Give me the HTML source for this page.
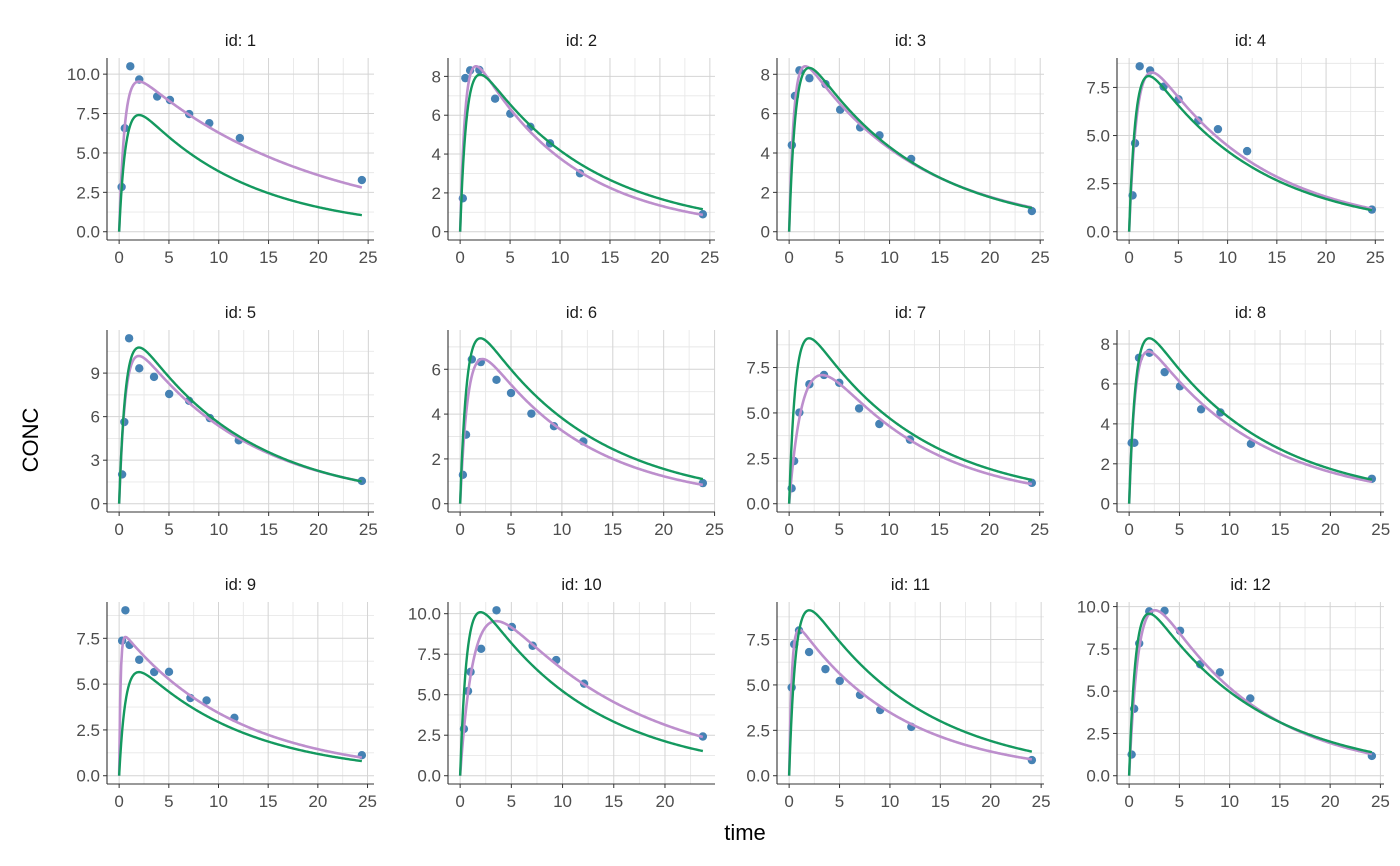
<!DOCTYPE html>
<html><head><meta charset="utf-8">
<style>
html,body{margin:0;padding:0;background:#fff;}
svg{display:block;font-family:"Liberation Sans",Arial,sans-serif;}
</style></head>
<body>
<svg id="chart" width="1400" height="866" viewBox="0 0 1400 866" xmlns="http://www.w3.org/2000/svg">
<text x="745" y="840" font-size="22" text-anchor="middle" fill="#000">time</text>
<text transform="translate(38,440) rotate(-90)" font-size="22" text-anchor="middle" fill="#000">CONC</text>
</svg>
<script>
// observed data (time, concentration) per id
const ids = [1,2,3,4,5,6,7,8,9,10,11,12];
const obsTime = [
 [0.25,0.57,1.12,2.02,3.82,5.10,7.03,9.05,12.12,24.37],
 [0.27,0.52,1.00,1.92,3.50,5.02,7.03,9.00,12.00,24.30],
 [0.27,0.58,1.02,2.02,3.62,5.08,7.07,9.00,12.15,24.17],
 [0.35,0.60,1.07,2.13,3.50,5.02,7.02,9.02,11.98,24.65],
 [0.30,0.52,1.00,2.02,3.50,5.02,7.02,9.10,12.00,24.35],
 [0.27,0.58,1.15,2.03,3.57,5.00,7.00,9.22,12.10,23.85],
 [0.25,0.50,1.02,2.02,3.48,5.00,6.98,9.00,12.05,24.22],
 [0.25,0.52,0.98,2.02,3.53,5.05,7.15,9.07,12.10,24.12],
 [0.30,0.63,1.05,2.02,3.53,5.02,7.17,8.80,11.60,24.43],
 [0.37,0.77,1.02,2.05,3.55,5.05,7.08,9.38,12.10,23.70],
 [0.25,0.50,0.98,1.98,3.60,5.02,7.03,9.03,12.12,24.08],
 [0.25,0.50,1.00,2.00,3.52,5.07,7.07,9.03,12.05,24.15]];
const obsConc = [
 [2.84,6.57,10.50,9.66,8.58,8.36,7.47,6.89,5.94,3.28],
 [1.72,7.91,8.31,8.33,6.85,6.08,5.40,4.55,3.01,0.90],
 [4.40,6.90,8.20,7.80,7.50,6.20,5.30,4.90,3.70,1.05],
 [1.89,4.60,8.60,8.38,7.54,6.88,5.78,5.33,4.19,1.15],
 [2.02,5.63,11.40,9.33,8.74,7.56,7.09,5.90,4.37,1.57],
 [1.29,3.08,6.44,6.32,5.53,4.94,4.02,3.46,2.78,0.92],
 [0.85,2.35,5.02,6.58,7.09,6.66,5.25,4.39,3.53,1.15],
 [3.05,3.05,7.31,7.56,6.59,5.88,4.73,4.57,3.00,1.25],
 [7.37,9.03,7.14,6.33,5.66,5.67,4.24,4.11,3.16,1.12],
 [2.89,5.22,6.41,7.83,10.21,9.18,8.02,7.14,5.68,2.42],
 [4.86,7.24,8.00,6.81,5.87,5.22,4.45,3.62,2.69,0.86],
 [1.25,3.96,7.82,9.72,9.75,8.57,6.59,6.11,4.57,1.17]];
// individual fit (purple) model parameters: absorption rate, elimination rate, amplitude
const ipredKa = [1.8,1.95,2.05,1.22,1.55,1.25,0.7,1.6,7.0,0.72,3.7,1.0];
const ipredKe = [0.056,0.103,0.087,0.09,0.087,0.098,0.097,0.09,0.086,0.074,0.096,0.099];
const ipredA  = [11.0,10.6,10.1,11.0,12.8,8.7,11.3,9.6,8.1,13.8,9.1,14.0];
// population prediction (green) parameters
const predKa = [1.5,1.5,1.5,1.5,1.5,1.5,1.5,1.5,1.5,1.5,1.5,1.5];
const predKe = [0.09,0.09,0.09,0.09,0.09,0.09,0.09,0.09,0.09,0.09,0.09,0.09];
const predA  = [9.43,10.3,10.6,10.3,13.7,9.4,11.6,10.55,7.2,12.85,11.6,12.2];
// y tick labels per panel
const yTicks = [
 [0,2.5,5,7.5,10],[0,2,4,6,8],[0,2,4,6,8],[0,2.5,5,7.5],
 [0,3,6,9],[0,2,4,6],[0,2.5,5,7.5],[0,2,4,6,8],
 [0,2.5,5,7.5],[0,2.5,5,7.5,10],[0,2.5,5,7.5],[0,2.5,5,7.5,10]];
const xTicks = [0,5,10,15,20,25];

const NS='http://www.w3.org/2000/svg';
const svg=document.getElementById('chart');
function mk(tag,attrs,parent){const e=document.createElementNS(NS,tag);for(const k in attrs)e.setAttribute(k,attrs[k]);(parent||svg).appendChild(e);return e;}
function model(A,ka,ke,t){return A*(Math.exp(-ke*t)-Math.exp(-ka*t));}

const colLeft=[107,448,777,1117];
const rowBottom=[240,512,784];
const PW=267, PH=182;

ids.forEach((id,i)=>{
  const r=Math.floor(i/4), c=i%4;
  const L=colLeft[c], B=rowBottom[r], T=B-PH, R=L+PW;
  const g=mk('g',{});
  
  
  const tmax=Math.max(...obsTime[i]);
  const ts=[];for(let k=0;k<=240;k++)ts.push(tmax*k/240);
  const ip=ts.map(t=>model(ipredA[i],ipredKa[i],ipredKe[i],t));
  const pp=ts.map(t=>model(predA[i],predKa[i],predKe[i],t));
  const ymax=Math.max(...obsConc[i],...ip,...pp);
  const x0=-0.05*tmax,x1=tmax*1.05, y0=-0.05*ymax, y1=ymax*1.05;
  const sx=v=>L+(v-x0)/(x1-x0)*PW;
  const sy=v=>B-(v-y0)/(y1-y0)*PH;
  const yt=yTicks[i];const step=yt[1]-yt[0];
  const dec=yt.some(v=>Math.abs(v-Math.round(v))>1e-9)?1:0;
  const minorsY=[];for(let k=0;k<yt.length+1;k++){const v=yt[0]+step*(k-0.5);if(v>y0&&v<y1)minorsY.push(v);}
  minorsY.forEach(v=>{const l=mk('line',{x1:L,x2:R,y1:sy(v),y2:sy(v),stroke:'#e8e8e8','stroke-width':0.9},g);});
  for(let v=-2.5;v<=30;v+=5){if(v>x0&&v<x1){const l=mk('line',{x1:sx(v),x2:sx(v),y1:T,y2:B,stroke:'#e8e8e8','stroke-width':0.9},g);}}
  yt.forEach(v=>{const y=sy(v);
    const l=mk('line',{x1:L,x2:R,y1:y,y2:y,stroke:'#d4d4d4','stroke-width':1},g);
    mk('line',{x1:L-4,x2:L,y1:y,y2:y,stroke:'#333','stroke-width':1},g);
    const tx=mk('text',{x:L-7,y:y+6,'font-size':17,'text-anchor':'end',fill:'#4d4d4d'},g);tx.textContent=v.toFixed(dec);
    });
  xTicks.forEach(v=>{if(v<x0||v>x1)return;const x=sx(v);
    const l=mk('line',{x1:x,x2:x,y1:T,y2:B,stroke:'#d4d4d4','stroke-width':1},g);
    mk('line',{x1:x,x2:x,y1:B,y2:B+4,stroke:'#333','stroke-width':1},g);
    const tx=mk('text',{x:x,y:B+23,'font-size':17,'text-anchor':'middle',fill:'#4d4d4d'},g);tx.textContent=v;
    });
  const ax=mk('line',{x1:L,x2:L,y1:T,y2:B,stroke:'#333','stroke-width':1.1},g);
  const bx=mk('line',{x1:L,x2:R,y1:B,y2:B,stroke:'#333','stroke-width':1.1},g);
  const st=mk('text',{x:(L+R)/2,y:T-12,'font-size':16.5,'text-anchor':'middle',fill:'#1a1a1a'},g);st.textContent='id: '+id;
  
  obsTime[i].forEach((t,k)=>{const p=mk('circle',{cx:sx(t),cy:sy(obsConc[i][k]),r:4.2,fill:'#4682b4'},g);
    });
  const pathOf=arr=>ts.map((t,k)=>(k?'L':'M')+sx(t).toFixed(2)+' '+sy(arr[k]).toFixed(2)).join('');
  const c1=mk('path',{d:pathOf(ip),fill:'none',stroke:'#bd8fcd','stroke-width':2.6,'stroke-linejoin':'round'},g);
  
  const c2=mk('path',{d:pathOf(pp),fill:'none',stroke:'#14995f','stroke-width':2.4,'stroke-linejoin':'round'},g);
  
});
</script>
</body></html>
